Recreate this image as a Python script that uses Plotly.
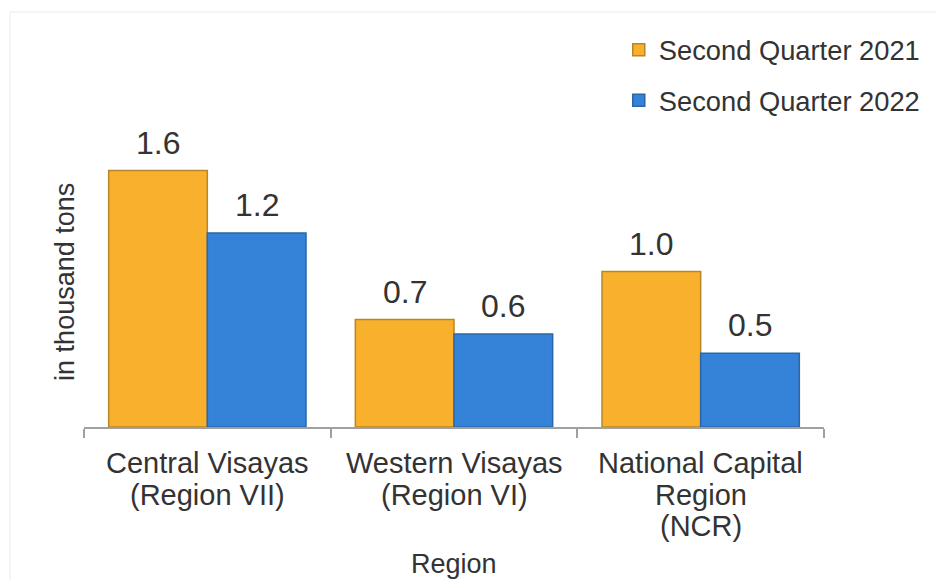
import plotly.graph_objects as go

categories = ["Central Visayas<br>(Region VII)", "Western Visayas<br>(Region VI)", "National Capital<br>Region<br>(NCR)"]
series_names = ["Second Quarter 2021", "Second Quarter 2022"]
q2_2021 = [1.60, 0.67, 0.97]
q2_2022 = [1.21, 0.58, 0.46]
y_title = "in thousand tons"
x_title = "Region"

colors = ["#F9B02C", "#3583D8"]
edges = ["#B8862A", "#2C66A8"]
FONT = "Liberation Sans, Arial, sans-serif"
TXT = "#333333"

fig = go.Figure()
for name, vals, c, e in zip(series_names, [q2_2021, q2_2022], colors, edges):
    fig.add_trace(go.Bar(
        x=list(range(len(categories))), y=vals, name=name, legendgroup=name,
        marker=dict(color=c, line=dict(color=e, width=1.5)),
    ))

annotations = []
for k, vals in enumerate([q2_2021, q2_2022]):
    off = -0.2 if k == 0 else 0.2
    for i, v in enumerate(vals):
        annotations.append(dict(
            x=i + off, y=v, xref="x", yref="y", text=f"{v:.1f}",
            showarrow=False, yanchor="middle", yshift=28,
            font=dict(size=32, color=TXT, family=FONT)))

# category labels, one annotation per line
for i, cat in enumerate(categories):
    for j, line in enumerate(cat.split("<br>")):
        annotations.append(dict(
            x=i, y=0, xref="x", yref="paper", text=line, showarrow=False,
            xanchor="center", yanchor="middle", yshift=-36 - 31.5 * j,
            font=dict(size=29, color=TXT, family=FONT)))

annotations.append(dict(x=-0.026, y=0.443, xref="paper", yref="paper", text=y_title,
                        textangle=-90, showarrow=False, xanchor="center", yanchor="middle",
                        font=dict(size=27, color=TXT, family=FONT)))
annotations.append(dict(x=0.5, y=-0.418, xref="paper", yref="paper", text=x_title,
                        showarrow=False, xanchor="center", yanchor="middle",
                        font=dict(size=27, color=TXT, family=FONT)))

fig.update_layout(
    width=944, height=580,
    margin=dict(l=76, r=128, t=92, b=161, autoexpand=False),
    paper_bgcolor="white", plot_bgcolor="white",
    barmode="group", bargap=0.2, bargroupgap=0,
    font=dict(family=FONT, color=TXT, size=27),
    showlegend=True,
    legend=dict(xref="container", yref="container", x=0.647, y=0.97,
                xanchor="left", yanchor="top", traceorder="grouped",
                tracegroupgap=12, font=dict(size=27.3, color=TXT, family=FONT),
                bgcolor="rgba(0,0,0,0)"),
    xaxis=dict(showline=True, linecolor="#A0A0A0", linewidth=1.5, range=[-0.5, 2.5],
               ticks="outside", tickvals=[-0.5, 0.5, 1.5, 2.5], ticklen=9,
               tickcolor="#A0A0A0", tickwidth=1.5, showticklabels=False, showgrid=False,
               zeroline=False, automargin=False),
    yaxis=dict(range=[0, 2.04], showgrid=False, showline=False, showticklabels=False,
               zeroline=False, ticks="", automargin=False),
    annotations=annotations,
    shapes=[
        dict(type="line", xref="paper", yref="paper", x0=-0.1, x1=1.2, y0=1.269, y1=1.269,
             line=dict(color="#F2F2F2", width=1.5)),
        dict(type="line", xref="paper", yref="paper", x0=-0.1, x1=-0.1, y0=1.269, y1=-0.5,
             line=dict(color="#F2F2F2", width=1.5)),
    ],
)

fig.write_html("out.html")
